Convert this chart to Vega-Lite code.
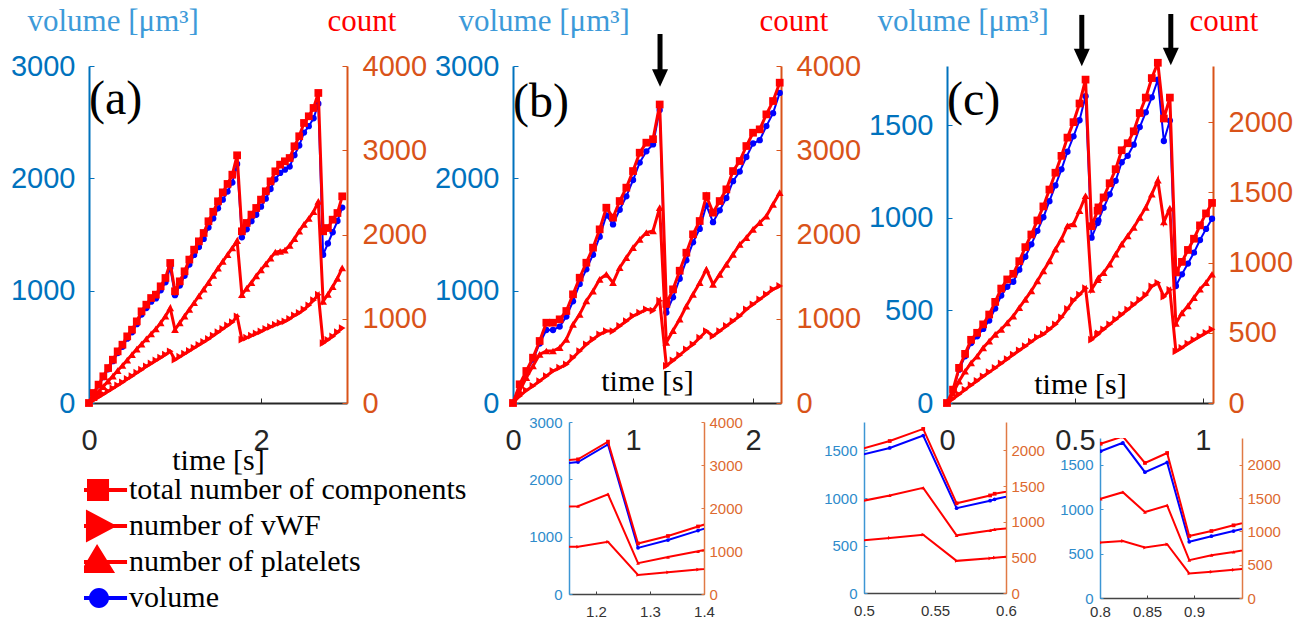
{
"$schema": "https://vega.github.io/schema/vega-lite/v6.json",
"autosize": {"type": "pad"},
"padding": {"left": 10, "top": 5, "right": 0, "bottom": 0},
"config": {"view": {"stroke": null}, "axis": {"grid": false, "labelFont": "Liberation Sans", "titleFont": "Liberation Serif", "titleFontWeight": "normal", "labelFlush": false, "labelOverlap": false}},
"datasets": {
"A": [
{"t":0,"tot":0,"vwf":0,"plt":0,"vol":0},
{"t":0.0556,"tot":119,"vwf":35,"plt":65,"vol":86},
{"t":0.1111,"tot":218,"vwf":70,"plt":130,"vol":158},
{"t":0.1667,"tot":317,"vwf":105,"plt":195,"vol":230},
{"t":0.2222,"tot":415,"vwf":140,"plt":260,"vol":300},
{"t":0.2778,"tot":514,"vwf":175,"plt":320,"vol":372},
{"t":0.3333,"tot":613,"vwf":210,"plt":385,"vol":444},
{"t":0.3889,"tot":692,"vwf":245,"plt":445,"vol":501},
{"t":0.4444,"tot":791,"vwf":285,"plt":510,"vol":573},
{"t":0.5,"tot":870,"vwf":320,"plt":575,"vol":630},
{"t":0.5556,"tot":969,"vwf":360,"plt":640,"vol":702},
{"t":0.6111,"tot":1088,"vwf":395,"plt":700,"vol":788},
{"t":0.6667,"tot":1167,"vwf":435,"plt":760,"vol":845},
{"t":0.7222,"tot":1246,"vwf":470,"plt":820,"vol":902},
{"t":0.7778,"tot":1286,"vwf":505,"plt":880,"vol":931},
{"t":0.8333,"tot":1385,"vwf":540,"plt":950,"vol":1003},
{"t":0.8889,"tot":1484,"vwf":575,"plt":1030,"vol":1074},
{"t":0.9444,"tot":1662,"vwf":613,"plt":1128,"vol":1203},
{"t":1.0,"tot":1326,"vwf":514,"plt":870,"vol":960},
{"t":1.0556,"tot":1444,"vwf":550,"plt":950,"vol":1045},
{"t":1.1111,"tot":1563,"vwf":585,"plt":1030,"vol":1132},
{"t":1.1667,"tot":1702,"vwf":620,"plt":1110,"vol":1232},
{"t":1.2222,"tot":1820,"vwf":655,"plt":1190,"vol":1318},
{"t":1.2778,"tot":1919,"vwf":690,"plt":1270,"vol":1389},
{"t":1.3333,"tot":2018,"vwf":725,"plt":1350,"vol":1461},
{"t":1.3889,"tot":2157,"vwf":760,"plt":1430,"vol":1562},
{"t":1.4444,"tot":2270,"vwf":800,"plt":1515,"vol":1643},
{"t":1.5,"tot":2394,"vwf":840,"plt":1600,"vol":1733},
{"t":1.5556,"tot":2500,"vwf":880,"plt":1680,"vol":1810},
{"t":1.6111,"tot":2600,"vwf":920,"plt":1760,"vol":1882},
{"t":1.6667,"tot":2710,"vwf":960,"plt":1840,"vol":1962},
{"t":1.7222,"tot":2940,"vwf":1029,"plt":1927,"vol":2128},
{"t":1.7778,"tot":2038,"vwf":752,"plt":1286,"vol":1475},
{"t":1.8333,"tot":2137,"vwf":775,"plt":1360,"vol":1547},
{"t":1.8889,"tot":2236,"vwf":800,"plt":1430,"vol":1619},
{"t":1.9444,"tot":2315,"vwf":825,"plt":1510,"vol":1676},
{"t":2.0,"tot":2414,"vwf":850,"plt":1580,"vol":1748},
{"t":2.0556,"tot":2513,"vwf":880,"plt":1650,"vol":1819},
{"t":2.1111,"tot":2631,"vwf":905,"plt":1720,"vol":1905},
{"t":2.1667,"tot":2750,"vwf":930,"plt":1790,"vol":1991},
{"t":2.2222,"tot":2829,"vwf":950,"plt":1800,"vol":2048},
{"t":2.2778,"tot":2869,"vwf":970,"plt":1815,"vol":2077},
{"t":2.3333,"tot":2908,"vwf":1000,"plt":1870,"vol":2105},
{"t":2.3889,"tot":3047,"vwf":1040,"plt":1950,"vol":2206},
{"t":2.4444,"tot":3166,"vwf":1070,"plt":2040,"vol":2292},
{"t":2.5,"tot":3324,"vwf":1110,"plt":2120,"vol":2407},
{"t":2.5556,"tot":3403,"vwf":1160,"plt":2190,"vol":2464},
{"t":2.6111,"tot":3502,"vwf":1220,"plt":2270,"vol":2535},
{"t":2.6667,"tot":3680,"vwf":1286,"plt":2394,"vol":2664},
{"t":2.7222,"tot":2038,"vwf":712,"plt":1207,"vol":1320},
{"t":2.7778,"tot":2077,"vwf":750,"plt":1290,"vol":1420},
{"t":2.8333,"tot":2176,"vwf":790,"plt":1380,"vol":1520},
{"t":2.8889,"tot":2255,"vwf":840,"plt":1480,"vol":1620},
{"t":2.9444,"tot":2453,"vwf":890,"plt":1603,"vol":1740}
],
"B": [
{"t":0,"tot":0,"vwf":0,"plt":0,"vol":0},
{"t":0.0556,"tot":222,"vwf":83,"plt":142,"vol":160},
{"t":0.1111,"tot":380,"vwf":150,"plt":301,"vol":274},
{"t":0.1667,"tot":538,"vwf":202,"plt":439,"vol":387},
{"t":0.2222,"tot":736,"vwf":261,"plt":578,"vol":530},
{"t":0.2778,"tot":953,"vwf":320,"plt":617,"vol":650},
{"t":0.3333,"tot":953,"vwf":380,"plt":617,"vol":650},
{"t":0.3889,"tot":993,"vwf":419,"plt":657,"vol":680},
{"t":0.4444,"tot":1092,"vwf":459,"plt":756,"vol":770},
{"t":0.5,"tot":1290,"vwf":538,"plt":934,"vol":905},
{"t":0.5556,"tot":1487,"vwf":617,"plt":1052,"vol":1060},
{"t":0.6111,"tot":1665,"vwf":696,"plt":1211,"vol":1190},
{"t":0.6667,"tot":1844,"vwf":756,"plt":1329,"vol":1320},
{"t":0.7222,"tot":2061,"vwf":815,"plt":1468,"vol":1480},
{"t":0.7778,"tot":2318,"vwf":854,"plt":1527,"vol":1670},
{"t":0.8333,"tot":2200,"vwf":854,"plt":1428,"vol":1590},
{"t":0.8889,"tot":2397,"vwf":914,"plt":1606,"vol":1720},
{"t":0.9444,"tot":2556,"vwf":973,"plt":1725,"vol":1840},
{"t":1.0,"tot":2753,"vwf":1033,"plt":1843,"vol":1985},
{"t":1.0556,"tot":2971,"vwf":1072,"plt":1942,"vol":2140},
{"t":1.1111,"tot":3090,"vwf":1112,"plt":2022,"vol":2240},
{"t":1.1667,"tot":3131,"vwf":1097,"plt":2043,"vol":2302},
{"t":1.2222,"tot":3543,"vwf":1215,"plt":2320,"vol":2609},
{"t":1.2778,"tot":1176,"vwf":442,"plt":718,"vol":805},
{"t":1.3333,"tot":1349,"vwf":505,"plt":860,"vol":941},
{"t":1.3889,"tot":1570,"vwf":568,"plt":994,"vol":1106},
{"t":1.4444,"tot":1784,"vwf":637,"plt":1151,"vol":1270},
{"t":1.5,"tot":2002,"vwf":696,"plt":1290,"vol":1430},
{"t":1.5556,"tot":2160,"vwf":775,"plt":1428,"vol":1550},
{"t":1.6111,"tot":2457,"vwf":854,"plt":1586,"vol":1760},
{"t":1.6667,"tot":2259,"vwf":795,"plt":1408,"vol":1610},
{"t":1.7222,"tot":2397,"vwf":854,"plt":1527,"vol":1715},
{"t":1.7778,"tot":2536,"vwf":914,"plt":1646,"vol":1825},
{"t":1.8333,"tot":2753,"vwf":973,"plt":1764,"vol":1975},
{"t":1.8889,"tot":2872,"vwf":1033,"plt":1883,"vol":2060},
{"t":1.9444,"tot":3050,"vwf":1112,"plt":1962,"vol":2190},
{"t":2.0,"tot":3208,"vwf":1171,"plt":2061,"vol":2310},
{"t":2.0556,"tot":3248,"vwf":1230,"plt":2140,"vol":2340},
{"t":2.1111,"tot":3426,"vwf":1290,"plt":2219,"vol":2465},
{"t":2.1667,"tot":3584,"vwf":1349,"plt":2358,"vol":2580},
{"t":2.2222,"tot":3802,"vwf":1389,"plt":2496,"vol":2760}
],
"C": [
{"t":0,"tot":0,"vwf":0,"plt":0,"vol":0},
{"t":0.0236,"tot":95,"vwf":30,"plt":71,"vol":68},
{"t":0.0471,"tot":250,"vwf":62,"plt":155,"vol":180},
{"t":0.0707,"tot":350,"vwf":95,"plt":226,"vol":252},
{"t":0.0942,"tot":450,"vwf":127,"plt":286,"vol":324},
{"t":0.1178,"tot":500,"vwf":158,"plt":333,"vol":360},
{"t":0.1413,"tot":560,"vwf":190,"plt":393,"vol":400},
{"t":0.1649,"tot":630,"vwf":220,"plt":440,"vol":445},
{"t":0.1884,"tot":720,"vwf":250,"plt":488,"vol":510},
{"t":0.212,"tot":815,"vwf":282,"plt":524,"vol":580},
{"t":0.2355,"tot":880,"vwf":313,"plt":571,"vol":628},
{"t":0.2591,"tot":920,"vwf":345,"plt":619,"vol":655},
{"t":0.2826,"tot":1010,"vwf":375,"plt":679,"vol":720},
{"t":0.3062,"tot":1110,"vwf":405,"plt":738,"vol":790},
{"t":0.3297,"tot":1200,"vwf":437,"plt":798,"vol":857},
{"t":0.3533,"tot":1300,"vwf":468,"plt":869,"vol":930},
{"t":0.3768,"tot":1400,"vwf":490,"plt":940,"vol":1003},
{"t":0.4004,"tot":1520,"vwf":525,"plt":1012,"vol":1090},
{"t":0.4239,"tot":1640,"vwf":560,"plt":1095,"vol":1175},
{"t":0.4475,"tot":1760,"vwf":610,"plt":1167,"vol":1262},
{"t":0.471,"tot":1890,"vwf":670,"plt":1262,"vol":1357},
{"t":0.4946,"tot":2000,"vwf":730,"plt":1275,"vol":1440},
{"t":0.5181,"tot":2133,"vwf":772,"plt":1369,"vol":1527},
{"t":0.5417,"tot":2303,"vwf":818,"plt":1476,"vol":1657},
{"t":0.5652,"tot":1259,"vwf":451,"plt":809,"vol":893},
{"t":0.5888,"tot":1369,"vwf":487,"plt":878,"vol":972},
{"t":0.592,"tot":1393,"vwf":496,"plt":892,"vol":986},
{"t":0.6123,"tot":1464,"vwf":525,"plt":929,"vol":1054},
{"t":0.6359,"tot":1565,"vwf":560,"plt":988,"vol":1127},
{"t":0.6594,"tot":1665,"vwf":595,"plt":1060,"vol":1200},
{"t":0.683,"tot":1800,"vwf":630,"plt":1131,"vol":1300},
{"t":0.7065,"tot":1850,"vwf":665,"plt":1190,"vol":1335},
{"t":0.7301,"tot":1935,"vwf":700,"plt":1250,"vol":1395},
{"t":0.7536,"tot":2065,"vwf":735,"plt":1321,"vol":1490},
{"t":0.7772,"tot":2175,"vwf":770,"plt":1393,"vol":1570},
{"t":0.8007,"tot":2314,"vwf":831,"plt":1488,"vol":1651},
{"t":0.8243,"tot":2423,"vwf":856,"plt":1587,"vol":1746},
{"t":0.8478,"tot":2026,"vwf":757,"plt":1289,"vol":1415},
{"t":0.8714,"tot":2175,"vwf":806,"plt":1388,"vol":1525},
{"t":0.8949,"tot":930,"vwf":368,"plt":567,"vol":632},
{"t":0.9185,"tot":1005,"vwf":393,"plt":642,"vol":695},
{"t":0.942,"tot":1090,"vwf":423,"plt":691,"vol":753},
{"t":0.9656,"tot":1170,"vwf":450,"plt":750,"vol":812},
{"t":0.9891,"tot":1265,"vwf":475,"plt":810,"vol":880},
{"t":1.0127,"tot":1350,"vwf":500,"plt":857,"vol":940},
{"t":1.0362,"tot":1425,"vwf":525,"plt":917,"vol":995}
],
"arrB": [{"t":1.225,"top":3285,"bot":2955,"head":2893}],
"arrC": [{"t":0.527,"top":2096,"bot":1901,"head":1866},{"t":0.875,"top":2101,"bot":1901,"head":1871}],
"series": [{"s":"tot"},{"s":"vwf"},{"s":"plt"},{"s":"vol"}]
},
"spacing": 356,
"bounds": "flush",
"resolve": {"scale": {"color": "independent", "shape": "independent"}},
"vconcat": [
{"hconcat": [
{
"width": 258, "height": 337,
"title": {"text": "(a)", "anchor": "start", "frame": "group", "orient": "top", "offset": 0, "dy": 143, "baseline": "middle", "align": "left", "font": "Liberation Serif", "fontSize": 48, "fontWeight": "normal", "color": "#000000"},
"encoding": {"x": {"field": "t", "type": "quantitative", "scale": {"domain": [0, 3.0], "nice": false, "zero": false}, "axis": {"values": [0, 2], "format": "~g", "domainColor": "#262626", "domainWidth": 2, "tickColor": "#262626", "tickSize": -5, "labelColor": "#262626", "labelFontSize": 29, "labelPadding": 28, "title": "time [s]", "titleFontSize": 30, "titleColor": "#000000", "titleY": 57, "titleBaseline": "middle"}}},
"layer": [
{"data": {"name": "A"},
"encoding": {"y": {"field": "vol", "type": "quantitative", "scale": {"domain": [0, 3000], "nice": false}, "axis": {"orient": "left", "values": [0, 1000, 2000, 3000], "format": "d", "domainColor": "#0072BD", "domainWidth": 2, "tickColor": "#0072BD", "tickSize": -5, "labelColor": "#0072BD", "labelFontSize": 29, "labelPadding": 19, "title": "volume [μm³]", "titleColor": "#3D9AD9", "titleFontSize": 31, "titleAngle": 0, "titleAlign": "left", "titleBaseline": "middle", "titleX": -62, "titleY": -45}}},
"layer": [
{"mark": {"type": "line", "strokeWidth": 2, "color": "#0000ff"}},
{"mark": {"type": "point", "filled": true, "opacity": 1, "size": 40, "color": "#0000ff", "shape": "circle"}}
]},
{"data": {"name": "A"}, "transform": [{"fold": ["tot","vwf","plt"], "as": ["s", "v"]}],
"encoding": {"y": {"field": "v", "type": "quantitative", "scale": {"domain": [0, 4000], "nice": false}, "axis": {"orient": "right", "values": [0, 1000, 2000, 3000, 4000], "format": "d", "domainColor": "#D95319", "domainWidth": 2, "tickColor": "#D95319", "tickSize": -5, "labelColor": "#D95319", "labelFontSize": 29, "labelPadding": 20, "title": "count", "titleColor": "#FF0000", "titleFontSize": 31, "titleAngle": 0, "titleAlign": "left", "titleBaseline": "middle", "titleX": -20, "titleY": -45}},
"color": {"field": "s", "type": "nominal", "scale": {"domain": ["tot","vwf","plt"], "range": ["#ff0000","#ff0000","#ff0000"]}, "legend": null}},
"layer": [
{"mark": {"type": "line", "strokeWidth": 3}},
{"mark": {"type": "point", "filled": true, "opacity": 1, "size": 60}, "encoding": {"shape": {"field": "s", "type": "nominal", "scale": {"domain": ["tot","vwf","plt"], "range": ["square","triangle-right","triangle-up"]}, "legend": null}}}
]}
],
"resolve": {"scale": {"y": "independent"}}
},
{
"width": 268, "height": 337,
"title": {"text": "(b)", "anchor": "start", "frame": "group", "orient": "top", "offset": 0, "dy": 146, "baseline": "middle", "align": "left", "font": "Liberation Serif", "fontSize": 48, "fontWeight": "normal", "color": "#000000"},
"encoding": {"x": {"field": "t", "type": "quantitative", "scale": {"domain": [0, 2.233], "nice": false, "zero": false}, "axis": {"values": [0, 1, 2], "format": "~g", "domainColor": "#262626", "domainWidth": 2, "tickColor": "#262626", "tickSize": -5, "labelColor": "#262626", "labelFontSize": 29, "labelPadding": 28, "title": "time [s]", "titleFontSize": 30, "titleColor": "#000000", "titleY": -22, "titleBaseline": "middle"}}},
"layer": [
{"layer": [
{"data": {"name": "B"},
"encoding": {"y": {"field": "vol", "type": "quantitative", "scale": {"domain": [0, 3000], "nice": false}, "axis": {"orient": "left", "values": [0, 1000, 2000, 3000], "format": "d", "domainColor": "#0072BD", "domainWidth": 2, "tickColor": "#0072BD", "tickSize": -5, "labelColor": "#0072BD", "labelFontSize": 29, "labelPadding": 19, "title": "volume [μm³]", "titleColor": "#3D9AD9", "titleFontSize": 31, "titleAngle": 0, "titleAlign": "left", "titleBaseline": "middle", "titleX": -55, "titleY": -45}}},
"layer": [
{"mark": {"type": "line", "strokeWidth": 2, "color": "#0000ff"}},
{"mark": {"type": "point", "filled": true, "opacity": 1, "size": 40, "color": "#0000ff", "shape": "circle"}}
]},
{"data": {"name": "arrB"}, "layer": [
{"mark": {"type": "rule", "strokeWidth": 5, "color": "#000000"}, "encoding": {"y": {"field": "top", "type": "quantitative", "scale": {"domain": [0, 3000], "nice": false}}, "y2": {"field": "bot"}}},
{"mark": {"type": "point", "filled": true, "opacity": 1, "color": "#000000", "shape": "M-1,-1.1H1L0,1.1Z", "size": 256}, "encoding": {"y": {"field": "head", "type": "quantitative", "scale": {"domain": [0, 3000], "nice": false}}}}
]}
]},
{"data": {"name": "B"}, "transform": [{"fold": ["tot","vwf","plt"], "as": ["s", "v"]}],
"encoding": {"y": {"field": "v", "type": "quantitative", "scale": {"domain": [0, 4000], "nice": false}, "axis": {"orient": "right", "values": [0, 1000, 2000, 3000, 4000], "format": "d", "domainColor": "#D95319", "domainWidth": 2, "tickColor": "#D95319", "tickSize": -5, "labelColor": "#D95319", "labelFontSize": 29, "labelPadding": 20, "title": "count", "titleColor": "#FF0000", "titleFontSize": 31, "titleAngle": 0, "titleAlign": "left", "titleBaseline": "middle", "titleX": -22, "titleY": -45}},
"color": {"field": "s", "type": "nominal", "scale": {"domain": ["tot","vwf","plt"], "range": ["#ff0000","#ff0000","#ff0000"]}, "legend": null}},
"layer": [
{"mark": {"type": "line", "strokeWidth": 3}},
{"mark": {"type": "point", "filled": true, "opacity": 1, "size": 60}, "encoding": {"shape": {"field": "s", "type": "nominal", "scale": {"domain": ["tot","vwf","plt"], "range": ["square","triangle-right","triangle-up"]}, "legend": null}}}
]}
],
"resolve": {"scale": {"y": "independent"}}
},
{
"width": 266, "height": 337,
"title": {"text": "(c)", "anchor": "start", "frame": "group", "orient": "top", "offset": 0, "dy": 144, "baseline": "middle", "align": "left", "font": "Liberation Serif", "fontSize": 48, "fontWeight": "normal", "color": "#000000"},
"encoding": {"x": {"field": "t", "type": "quantitative", "scale": {"domain": [0, 1.04], "nice": false, "zero": false}, "axis": {"values": [0, 0.5, 1], "format": "~g", "domainColor": "#262626", "domainWidth": 2, "tickColor": "#262626", "tickSize": -5, "labelColor": "#262626", "labelFontSize": 29, "labelPadding": 28, "title": "time [s]", "titleFontSize": 30, "titleColor": "#000000", "titleY": -19, "titleBaseline": "middle"}}},
"layer": [
{"layer": [
{"data": {"name": "C"},
"encoding": {"y": {"field": "vol", "type": "quantitative", "scale": {"domain": [0, 1820], "nice": false}, "axis": {"orient": "left", "values": [0, 500, 1000, 1500], "format": "d", "domainColor": "#0072BD", "domainWidth": 2, "tickColor": "#0072BD", "tickSize": -5, "labelColor": "#0072BD", "labelFontSize": 29, "labelPadding": 19, "title": "volume [μm³]", "titleColor": "#3D9AD9", "titleFontSize": 31, "titleAngle": 0, "titleAlign": "left", "titleBaseline": "middle", "titleX": -70, "titleY": -45}}},
"layer": [
{"mark": {"type": "line", "strokeWidth": 2, "color": "#0000ff"}},
{"mark": {"type": "point", "filled": true, "opacity": 1, "size": 40, "color": "#0000ff", "shape": "circle"}}
]},
{"data": {"name": "arrC"}, "layer": [
{"mark": {"type": "rule", "strokeWidth": 5, "color": "#000000"}, "encoding": {"y": {"field": "top", "type": "quantitative", "scale": {"domain": [0, 1820], "nice": false}}, "y2": {"field": "bot"}}},
{"mark": {"type": "point", "filled": true, "opacity": 1, "color": "#000000", "shape": "M-1,-1.1H1L0,1.1Z", "size": 256}, "encoding": {"y": {"field": "head", "type": "quantitative", "scale": {"domain": [0, 1820], "nice": false}}}}
]}
]},
{"data": {"name": "C"}, "transform": [{"fold": ["tot","vwf","plt"], "as": ["s", "v"]}],
"encoding": {"y": {"field": "v", "type": "quantitative", "scale": {"domain": [0, 2400], "nice": false}, "axis": {"orient": "right", "values": [0, 500, 1000, 1500, 2000], "format": "d", "domainColor": "#D95319", "domainWidth": 2, "tickColor": "#D95319", "tickSize": -5, "labelColor": "#D95319", "labelFontSize": 29, "labelPadding": 20, "title": "count", "titleColor": "#FF0000", "titleFontSize": 31, "titleAngle": 0, "titleAlign": "left", "titleBaseline": "middle", "titleX": -24, "titleY": -45}},
"color": {"field": "s", "type": "nominal", "scale": {"domain": ["tot","vwf","plt"], "range": ["#ff0000","#ff0000","#ff0000"]}, "legend": null}},
"layer": [
{"mark": {"type": "line", "strokeWidth": 3}},
{"mark": {"type": "point", "filled": true, "opacity": 1, "size": 60}, "encoding": {"shape": {"field": "s", "type": "nominal", "scale": {"domain": ["tot","vwf","plt"], "range": ["square","triangle-right","triangle-up"]}, "legend": null}}}
]}
],
"resolve": {"scale": {"y": "independent"}}
}
], "spacing": 166, "bounds": "flush"},
{"hconcat": [
{"width": 320, "height": 172, "data": {"name": "series"},
"mark": {"type": "point", "filled": true, "opacity": 0},
"encoding": {
"color": {"field": "s", "type": "nominal", "scale": {"domain": ["tot","vwf","plt","vol"], "range": ["#ff0000","#ff0000","#ff0000","#0000ff"]},
"legend": {"title": null, "orient": "none", "legendX": -5, "legendY": 50, "direction": "vertical", "symbolSize": 900, "symbolOpacity": 1, "symbolStrokeWidth": 0, "clipHeight": 36, "rowPadding": 0, "labelFont": "Liberation Serif", "labelFontSize": 30, "labelColor": "#000000", "labelOffset": 15, "labelLimit": 1000, "padding": 0,
"labelExpr": "datum.label === 'tot' ? 'total number of components' : datum.label === 'vwf' ? 'number of vWF' : datum.label === 'plt' ? 'number of platelets' : 'volume'"}},
"shape": {"field": "s", "type": "nominal", "scale": {"domain": ["tot","vwf","plt","vol"], "range": ["M-1.87,-0.13H1.87V0.13H-1.87ZM-0.8,-0.73H0.67V0.73H-0.8Z", "M-1.87,-0.13H1.87V0.13H-1.87ZM-0.87,-1.1L1.2,0L-0.87,1.1Z", "M-1.87,-0.13H1.87V0.13H-1.87ZM-1.27,0.73L-0.13,-1.2L1.07,0.73Z", "M-1.87,-0.13H1.87V0.13H-1.87ZM-0.67,0A0.67,0.67,0,1,1,0.67,0A0.67,0.67,0,1,1,-0.67,0Z"]},
"legend": {"title": null, "orient": "none", "legendX": -5, "legendY": 50, "direction": "vertical", "symbolSize": 900, "symbolOpacity": 1, "symbolStrokeWidth": 0, "clipHeight": 36, "rowPadding": 0, "labelFont": "Liberation Serif", "labelFontSize": 30, "labelColor": "#000000", "labelOffset": 15, "labelLimit": 1000, "padding": 0,
"labelExpr": "datum.label === 'tot' ? 'total number of components' : datum.label === 'vwf' ? 'number of vWF' : datum.label === 'plt' ? 'number of platelets' : 'volume'"}}
}},
{
"width": 135, "height": 172,
"encoding": {"x": {"field": "t", "type": "quantitative", "scale": {"domain": [1.15, 1.4], "nice": false, "zero": false}, "axis": {"values": [1.2, 1.3, 1.4], "format": "~g", "domainColor": "#444444", "domainWidth": 1.5, "tickColor": "#444444", "tickSize": -3, "labelColor": "#333333", "labelFontSize": 15, "labelPadding": 13, "title": null}}},
"layer": [
{"data": {"name": "B"},
"encoding": {"y": {"field": "vol", "type": "quantitative", "scale": {"domain": [0, 3000], "nice": false}, "axis": {"orient": "left", "values": [0, 1000, 2000, 3000], "format": "d", "domainColor": "#3C96D4", "domainWidth": 1.5, "tickColor": "#3C96D4", "tickSize": -3, "labelColor": "#2E8BCB", "labelFontSize": 15, "labelPadding": 10, "title": null}}},
"layer": [
{"mark": {"type": "line", "strokeWidth": 2, "clip": true, "color": "#0000ff"}},
{"mark": {"type": "point", "filled": true, "opacity": 1, "size": 14, "clip": true, "color": "#0000ff", "shape": "circle"}}
]},
{"data": {"name": "B"}, "transform": [{"fold": ["tot","vwf","plt"], "as": ["s", "v"]}],
"encoding": {"y": {"field": "v", "type": "quantitative", "scale": {"domain": [0, 4000], "nice": false}, "axis": {"orient": "right", "values": [0, 1000, 2000, 3000, 4000], "format": "d", "domainColor": "#E07A45", "domainWidth": 1.5, "tickColor": "#E07A45", "tickSize": -3, "labelColor": "#DD6A30", "labelFontSize": 15, "labelPadding": 8, "title": null}},
"color": {"field": "s", "type": "nominal", "scale": {"domain": ["tot","vwf","plt"], "range": ["#ff0000","#ff0000","#ff0000"]}, "legend": null}},
"layer": [
{"mark": {"type": "line", "strokeWidth": 2, "clip": true}},
{"mark": {"type": "point", "filled": true, "opacity": 1, "size": 14, "clip": true}, "encoding": {"shape": {"field": "s", "type": "nominal", "scale": {"domain": ["tot","vwf","plt"], "range": ["square","triangle-right","triangle-up"]}, "legend": null}}}
]}
],
"resolve": {"scale": {"y": "independent"}}
},
{"hconcat": [
{
"width": 142, "height": 171,
"encoding": {"x": {"field": "t", "type": "quantitative", "scale": {"domain": [0.5, 0.6], "nice": false, "zero": false}, "axis": {"values": [0.5, 0.55, 0.6], "format": "~g", "domainColor": "#444444", "domainWidth": 1.5, "tickColor": "#444444", "tickSize": -3, "labelColor": "#333333", "labelFontSize": 15, "labelPadding": 13, "title": null}}},
"layer": [
{"data": {"name": "C"},
"encoding": {"y": {"field": "vol", "type": "quantitative", "scale": {"domain": [0, 1800], "nice": false}, "axis": {"orient": "left", "values": [0, 500, 1000, 1500], "format": "d", "domainColor": "#3C96D4", "domainWidth": 1.5, "tickColor": "#3C96D4", "tickSize": -3, "labelColor": "#2E8BCB", "labelFontSize": 15, "labelPadding": 10, "title": null}}},
"layer": [
{"mark": {"type": "line", "strokeWidth": 2, "clip": true, "color": "#0000ff"}},
{"mark": {"type": "point", "filled": true, "opacity": 1, "size": 14, "clip": true, "color": "#0000ff", "shape": "circle"}}
]},
{"data": {"name": "C"}, "transform": [{"fold": ["tot","vwf","plt"], "as": ["s", "v"]}],
"encoding": {"y": {"field": "v", "type": "quantitative", "scale": {"domain": [0, 2400], "nice": false}, "axis": {"orient": "right", "values": [0, 500, 1000, 1500, 2000], "format": "d", "domainColor": "#E07A45", "domainWidth": 1.5, "tickColor": "#E07A45", "tickSize": -3, "labelColor": "#DD6A30", "labelFontSize": 15, "labelPadding": 8, "title": null}},
"color": {"field": "s", "type": "nominal", "scale": {"domain": ["tot","vwf","plt"], "range": ["#ff0000","#ff0000","#ff0000"]}, "legend": null}},
"layer": [
{"mark": {"type": "line", "strokeWidth": 2, "clip": true}},
{"mark": {"type": "point", "filled": true, "opacity": 1, "size": 14, "clip": true}, "encoding": {"shape": {"field": "s", "type": "nominal", "scale": {"domain": ["tot","vwf","plt"], "range": ["square","triangle-right","triangle-up"]}, "legend": null}}}
]}
],
"resolve": {"scale": {"y": "independent"}}
},
{"vconcat": [
{"width": 142, "height": 6, "data": {"values": [{}]}, "mark": {"type": "text", "text": ""}},
{
"width": 142, "height": 160,
"encoding": {"x": {"field": "t", "type": "quantitative", "scale": {"domain": [0.8, 0.951], "nice": false, "zero": false}, "axis": {"values": [0.8, 0.85, 0.9], "format": "~g", "domainColor": "#444444", "domainWidth": 1.5, "tickColor": "#444444", "tickSize": -3, "labelColor": "#333333", "labelFontSize": 15, "labelPadding": 9, "title": null}}},
"layer": [
{"data": {"name": "C"},
"encoding": {"y": {"field": "vol", "type": "quantitative", "scale": {"domain": [0, 1800], "nice": false}, "axis": {"orient": "left", "values": [0, 500, 1000, 1500], "format": "d", "domainColor": "#3C96D4", "domainWidth": 1.5, "tickColor": "#3C96D4", "tickSize": -3, "labelColor": "#2E8BCB", "labelFontSize": 15, "labelPadding": 10, "title": null}}},
"layer": [
{"mark": {"type": "line", "strokeWidth": 2, "clip": true, "color": "#0000ff"}},
{"mark": {"type": "point", "filled": true, "opacity": 1, "size": 14, "clip": true, "color": "#0000ff", "shape": "circle"}}
]},
{"data": {"name": "C"}, "transform": [{"fold": ["tot","vwf","plt"], "as": ["s", "v"]}],
"encoding": {"y": {"field": "v", "type": "quantitative", "scale": {"domain": [0, 2400], "nice": false}, "axis": {"orient": "right", "values": [0, 500, 1000, 1500, 2000], "format": "d", "domainColor": "#E07A45", "domainWidth": 1.5, "tickColor": "#E07A45", "tickSize": -3, "labelColor": "#DD6A30", "labelFontSize": 15, "labelPadding": 8, "title": null}},
"color": {"field": "s", "type": "nominal", "scale": {"domain": ["tot","vwf","plt"], "range": ["#ff0000","#ff0000","#ff0000"]}, "legend": null}},
"layer": [
{"mark": {"type": "line", "strokeWidth": 2, "clip": true}},
{"mark": {"type": "point", "filled": true, "opacity": 1, "size": 14, "clip": true}, "encoding": {"shape": {"field": "s", "type": "nominal", "scale": {"domain": ["tot","vwf","plt"], "range": ["square","triangle-right","triangle-up"]}, "legend": null}}}
]}
],
"resolve": {"scale": {"y": "independent"}}
}
], "spacing": 10, "bounds": "flush"}
], "spacing": 94, "bounds": "flush"}
], "spacing": 160, "bounds": "flush", "resolve": {"scale": {"color": "independent", "shape": "independent"}}}
]
}
